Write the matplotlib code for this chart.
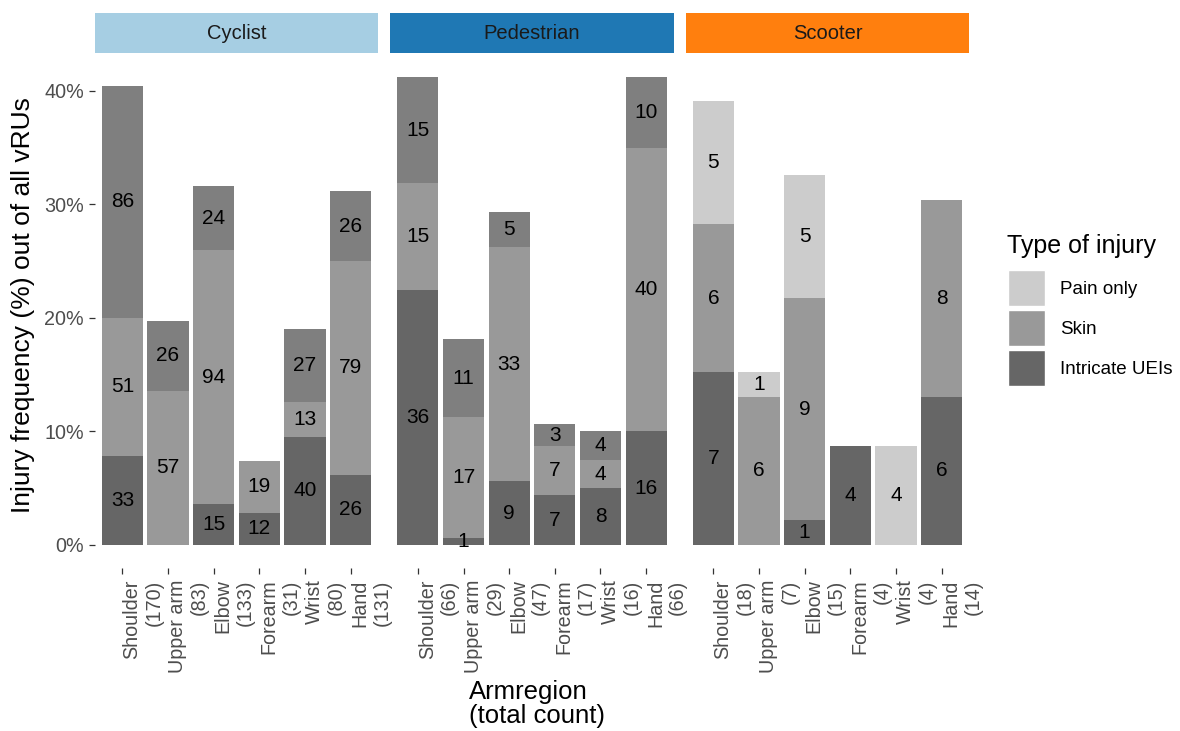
import matplotlib
matplotlib.use('Agg')
from matplotlib import pyplot as plt
from matplotlib.patches import Patch
from matplotlib.transforms import ScaledTranslation
import numpy as np

plt.rcParams['font.family'] = ['Liberation Sans', 'DejaVu Sans']

regions = ['Shoulder', 'Upper arm', 'Elbow', 'Forearm', 'Wrist', 'Hand']
groups = ['Cyclist', 'Pedestrian', 'Scooter']
strip_colors = ['#A6CEE3', '#1F78B4', '#FF7F0E']

# number of vRUs per group (denominator for the percentages)
n_vru = [420, 160, 46]

# counts per arm region, one list per injury type
cyc_intricate = [33, 0, 15, 12, 40, 26]
cyc_skin = [51, 57, 94, 19, 13, 79]
cyc_pain = [86, 26, 24, 0, 27, 26]

ped_intricate = [36, 1, 9, 7, 8, 16]
ped_skin = [15, 17, 33, 7, 4, 40]
ped_pain = [15, 11, 5, 3, 4, 10]

sco_intricate = [7, 0, 1, 4, 0, 6]
sco_skin = [6, 6, 9, 0, 0, 8]
sco_pain = [5, 1, 5, 0, 4, 0]

counts = [
    [cyc_intricate, cyc_skin, cyc_pain],
    [ped_intricate, ped_skin, ped_pain],
    [sco_intricate, sco_skin, sco_pain],
]

col_intricate = '#666666'
col_skin = '#999999'
pain_colors = ['#7F7F7F', '#7F7F7F', '#CCCCCC']

W, H = 1180, 731
fig = plt.figure(figsize=(W / 100, H / 100), dpi=100)

panel_left = [95, 390.5, 686]
panel_w = 283
panel_top, panel_bottom = 53.4, 568.4
strip_top = 13

ymax = max(max(np.sum(c, axis=0)) / n * 100 for c, n in zip(counts, n_vru))
ylim = (-0.05 * ymax, 1.05 * ymax)

x = np.arange(len(regions))
width = 0.9
axis_grey = '#4D4D4D'

for g, group in enumerate(groups):
    ax = fig.add_axes([panel_left[g] / W, 1 - panel_bottom / H,
                       panel_w / W, (panel_bottom - panel_top) / H])
    colors = [col_intricate, col_skin, pain_colors[g]]
    bottom = np.zeros(len(regions))
    for k in range(3):
        vals = np.array(counts[g][k], dtype=float)
        pct = vals / n_vru[g] * 100
        ax.bar(x, pct, width=width, bottom=bottom, color=colors[k],
               linewidth=0)
        for i in range(len(regions)):
            if vals[i] > 0:
                ax.text(x[i], bottom[i] + pct[i] / 2, '%d' % vals[i],
                        ha='center', va='center', fontsize=15,
                        color='black')
        bottom += pct

    totals = np.sum(counts[g], axis=0)
    ax.set_xlim(-0.6, len(regions) - 0.4)
    ax.set_ylim(*ylim)
    ax.set_xticks(x)
    ax.set_xticklabels(['%s\n(%d)' % (r, t) for r, t in zip(regions, totals)],
                       rotation=90, ha='left', va='top', multialignment='right',
                       fontsize=14.2, color=axis_grey)
    for lab in ax.get_xticklabels():
        lab.set_transform(lab.get_transform() +
                          ScaledTranslation(-3 / 100, 0, fig.dpi_scale_trans))
    ax.tick_params(axis='x', length=4, width=0.9, color='#333333', pad=4)
    for s in ax.spines.values():
        s.set_visible(False)
    if g == 0:
        ax.set_yticks([0, 10, 20, 30, 40])
        ax.set_yticklabels(['0%', '10%', '20%', '30%', '40%'],
                           fontsize=14.2, color=axis_grey)
        ax.tick_params(axis='y', length=4, width=0.9, color='#333333', pad=4)
    else:
        ax.set_yticks([])

    # facet strip
    sax = fig.add_axes([panel_left[g] / W, 1 - panel_top / H,
                        panel_w / W, (panel_top - strip_top) / H])
    sax.set_facecolor(strip_colors[g])
    sax.set_xticks([])
    sax.set_yticks([])
    for s in sax.spines.values():
        s.set_visible(False)
    sax.text(0.5, 0.5, group, ha='center', va='center', fontsize=14.5,
             color='#1A1A1A', transform=sax.transAxes)

fig.text(23 / W, 1 - 305 / H, 'Injury frequency (%) out of all vRUs',
         rotation=90, ha='center', va='center', fontsize=19)
fig.text(469 / W, 1 - 680 / H, 'Armregion\n(total count)', ha='left',
         va='top', fontsize=18.5, linespacing=1.0)

# legend: title drawn separately so the gap to the keys can be set
fig.text(1007 / W, 1 - 246 / H, 'Type of injury', ha='left', va='center',
         fontsize=18)
handles = [Patch(facecolor='#CCCCCC', edgecolor='white'),
           Patch(facecolor=col_skin, edgecolor='white'),
           Patch(facecolor=col_intricate, edgecolor='white')]
leg = fig.legend(handles, ['Pain only', 'Skin', 'Intricate UEIs'],
                 loc='upper left',
                 bbox_to_anchor=(999 / W, 1 - 261 / H), frameon=False,
                 fontsize=13.5, handlelength=1.97,
                 handleheight=2.58, labelspacing=0.21, handletextpad=0.8,
                 borderpad=0)

fig.savefig('out.png', dpi=100)
